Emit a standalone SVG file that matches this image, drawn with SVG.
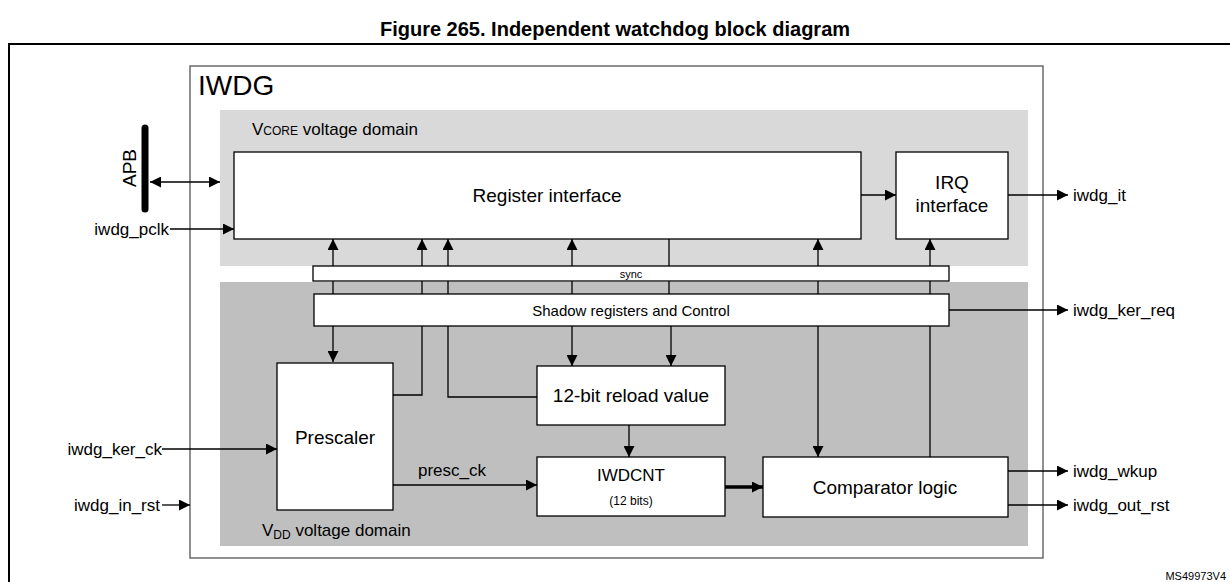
<svg xmlns="http://www.w3.org/2000/svg" width="1230" height="582" viewBox="0 0 1230 582">
<style>
text{font-family:"Liberation Sans",Arial,sans-serif;fill:#000}
.b{fill:#fff;stroke:#000;stroke-width:1.3}
.l{stroke:#000;stroke-width:1.3;fill:none}
.t16{font-size:17px}
.t18{font-size:19px}
</style>
<defs>
<marker id="a" viewBox="0 0 10 10" refX="10" refY="5" markerWidth="14" markerHeight="11" markerUnits="userSpaceOnUse" orient="auto-start-reverse"><path d="M0,0L10,5L0,10z" fill="#000"/></marker>
</defs>
<rect width="1230" height="582" fill="#fff"/>
<text x="615" y="36" text-anchor="middle" font-weight="bold" font-size="20">Figure 265. Independent watchdog block diagram</text>
<rect x="9" y="44" width="1230" height="560" fill="none" stroke="#000" stroke-width="2"/>
<g id="iwdg"><rect x="190" y="66" width="853" height="492" fill="#fff" stroke="#555" stroke-width="1.3"/>
<text x="198" y="95" font-size="28">IWDG</text></g>
<g id="vcore"><rect x="220" y="110" width="808" height="156" fill="#d9d9d9"/>
<text x="252" y="135" class="t16">V<tspan font-size="12">CORE</tspan> voltage domain</text></g>
<g id="vdd"><rect x="220" y="282" width="808" height="264" fill="#bfbfbf"/>
<text x="262" y="536" class="t16">V<tspan font-size="12" dy="3">DD</tspan><tspan dy="-3"> voltage domain</tspan></text></g>
<g id="connectors">
<line class="l" x1="333" y1="294" x2="333" y2="239" marker-end="url(#a)"/>
<line class="l" x1="422" y1="294" x2="422" y2="239" marker-end="url(#a)"/>
<line class="l" x1="448" y1="294" x2="448" y2="239" marker-end="url(#a)"/>
<line class="l" x1="572" y1="294" x2="572" y2="239" marker-end="url(#a)"/>
<line class="l" x1="669" y1="294" x2="669" y2="239"/>
<line class="l" x1="818" y1="294" x2="818" y2="239" marker-end="url(#a)"/>
<line class="l" x1="930" y1="294" x2="930" y2="239" marker-end="url(#a)"/>
<line class="l" x1="333" y1="326" x2="333" y2="362" marker-end="url(#a)"/>
<polyline class="l" points="422,326 422,395 393,395"/>
<polyline class="l" points="448,326 448,397 537,397"/>
<line class="l" x1="572" y1="326" x2="572" y2="366" marker-end="url(#a)"/>
<line class="l" x1="671" y1="326" x2="671" y2="366" marker-end="url(#a)"/>
<line class="l" x1="818" y1="326" x2="818" y2="457" marker-end="url(#a)"/>
<line class="l" x1="930" y1="326" x2="930" y2="457"/>
<line class="l" x1="629" y1="425" x2="629" y2="457" marker-end="url(#a)"/>
<line class="l" x1="393" y1="485" x2="537" y2="485" marker-end="url(#a)"/>
<line x1="725" y1="487" x2="763" y2="487" stroke="#000" stroke-width="3.5" marker-end="url(#a)"/>
<line class="l" x1="861" y1="195" x2="896" y2="195" marker-end="url(#a)"/>
<line class="l" x1="1008" y1="195" x2="1068" y2="195" marker-end="url(#a)"/>
<line class="l" x1="949" y1="310" x2="1068" y2="310" marker-end="url(#a)"/>
<line class="l" x1="1008" y1="471" x2="1068" y2="471" marker-end="url(#a)"/>
<line class="l" x1="1008" y1="505" x2="1068" y2="505" marker-end="url(#a)"/>
<line class="l" x1="150" y1="182" x2="220" y2="182" marker-start="url(#a)" marker-end="url(#a)"/>
<line class="l" x1="170" y1="229" x2="234" y2="229" marker-end="url(#a)"/>
<line class="l" x1="162" y1="449" x2="277" y2="449" marker-end="url(#a)"/>
<line class="l" x1="162" y1="505" x2="190" y2="505" marker-end="url(#a)"/>
<text x="418" y="476" class="t16">presc_ck</text>
</g>
<g id="apb"><line x1="145" y1="128" x2="145" y2="209" stroke="#000" stroke-width="7" stroke-linecap="round"/>
<text transform="translate(136,168) rotate(-90)" text-anchor="middle" class="t18">APB</text></g>
<g id="sync"><rect class="b" x="313" y="266" width="636" height="15"/><text x="631" y="278" text-anchor="middle" font-size="11">sync</text></g>
<g id="shadow"><rect class="b" x="314" y="294" width="635" height="32"/><text x="631" y="316" text-anchor="middle" font-size="15">Shadow registers and Control</text></g>
<g id="reg"><rect class="b" x="234" y="152" width="627" height="87"/><text x="547" y="202" text-anchor="middle" class="t18">Register interface</text></g>
<g id="irq"><rect class="b" x="896" y="152" width="112" height="87"/><text x="952" y="189" text-anchor="middle" class="t18">IRQ</text><text x="952" y="212" text-anchor="middle" class="t18">interface</text></g>
<g id="prescaler"><rect class="b" x="277" y="363" width="116" height="147"/><text x="335" y="444" text-anchor="middle" class="t18">Prescaler</text></g>
<g id="reload"><rect class="b" x="537" y="366" width="188" height="59"/><text x="631" y="402" text-anchor="middle" class="t18">12-bit reload value</text></g>
<g id="iwdcnt"><rect class="b" x="537" y="457" width="188" height="59"/><text x="631" y="481" text-anchor="middle" class="t16">IWDCNT</text><text x="631" y="505" text-anchor="middle" font-size="12">(12 bits)</text></g>
<g id="comparator"><rect class="b" x="763" y="457" width="245" height="60"/><text x="885" y="494" text-anchor="middle" class="t18">Comparator logic</text></g>
<g id="labels">
<text x="1073" y="201" class="t16">iwdg_it</text>
<text x="1073" y="316" class="t16">iwdg_ker_req</text>
<text x="1073" y="477" class="t16">iwdg_wkup</text>
<text x="1073" y="511" class="t16">iwdg_out_rst</text>
<text x="169" y="235" text-anchor="end" class="t16">iwdg_pclk</text>
<text x="162" y="455" text-anchor="end" class="t16">iwdg_ker_ck</text>
<text x="160" y="511" text-anchor="end" class="t16">iwdg_in_rst</text>
<text x="1226" y="580" text-anchor="end" font-size="11">MS49973V4</text>
</g>
</svg>
